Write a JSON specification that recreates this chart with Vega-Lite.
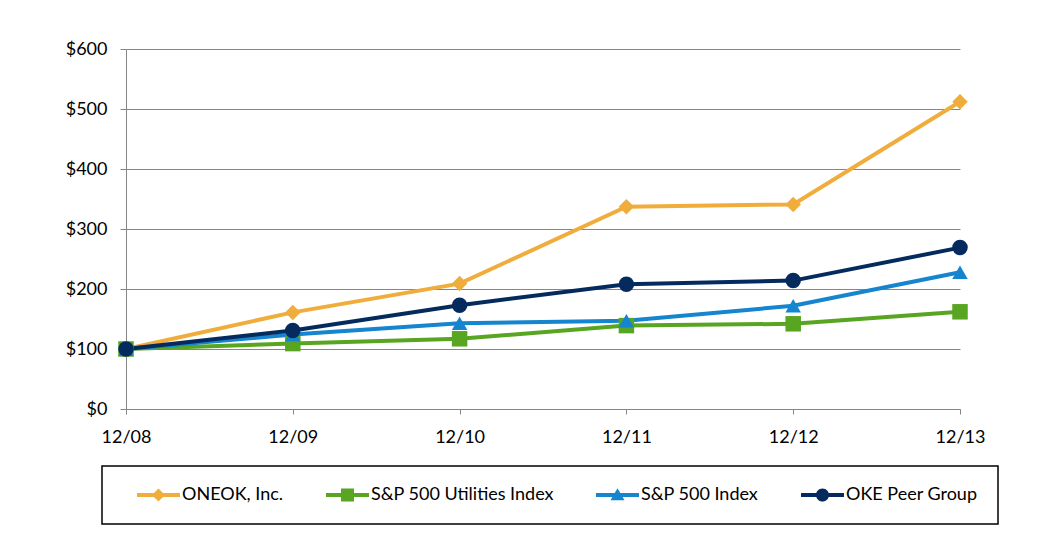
{
  "$schema": "https://vega.github.io/schema/vega-lite/v6.json",
  "width": 834,
  "height": 360,
  "autosize": {"type": "none"},
  "padding": {"left": 126, "top": 49, "right": 77, "bottom": 129},
  "background": "white",
  "data": {
    "values": [
      {"year": "12/08", "series": "ONEOK, Inc.", "value": 100},
      {"year": "12/09", "series": "ONEOK, Inc.", "value": 161},
      {"year": "12/10", "series": "ONEOK, Inc.", "value": 209},
      {"year": "12/11", "series": "ONEOK, Inc.", "value": 337},
      {"year": "12/12", "series": "ONEOK, Inc.", "value": 341},
      {"year": "12/13", "series": "ONEOK, Inc.", "value": 512},
      {"year": "12/08", "series": "S&P 500 Utilities Index", "value": 100},
      {"year": "12/09", "series": "S&P 500 Utilities Index", "value": 109},
      {"year": "12/10", "series": "S&P 500 Utilities Index", "value": 117},
      {"year": "12/11", "series": "S&P 500 Utilities Index", "value": 139},
      {"year": "12/12", "series": "S&P 500 Utilities Index", "value": 142},
      {"year": "12/13", "series": "S&P 500 Utilities Index", "value": 162},
      {"year": "12/08", "series": "S&P 500 Index", "value": 100},
      {"year": "12/09", "series": "S&P 500 Index", "value": 124},
      {"year": "12/10", "series": "S&P 500 Index", "value": 143},
      {"year": "12/11", "series": "S&P 500 Index", "value": 147},
      {"year": "12/12", "series": "S&P 500 Index", "value": 172},
      {"year": "12/13", "series": "S&P 500 Index", "value": 228},
      {"year": "12/08", "series": "OKE Peer Group", "value": 100},
      {"year": "12/09", "series": "OKE Peer Group", "value": 131},
      {"year": "12/10", "series": "OKE Peer Group", "value": 173},
      {"year": "12/11", "series": "OKE Peer Group", "value": 208},
      {"year": "12/12", "series": "OKE Peer Group", "value": 214},
      {"year": "12/13", "series": "OKE Peer Group", "value": 269}
    ]
  },
  "encoding": {
    "x": {
      "field": "year", "type": "ordinal",
      "scale": {"type": "point", "padding": 0, "domain": ["12/08", "12/09", "12/10", "12/11", "12/12", "12/13"]},
      "axis": {"title": null, "labelAngle": 0, "grid": false, "domainColor": "#868686", "tickColor": "#868686", "tickSize": 5, "labelPadding": 14, "labelFont": "Lato", "labelFontSize": 18, "labelColor": "#000000"}
    },
    "y": {
      "field": "value", "type": "quantitative",
      "scale": {"domain": [0, 600], "nice": false},
      "axis": {"title": null, "values": [0, 100, 200, 300, 400, 500, 600], "format": "$.0f", "grid": true, "gridColor": "#868686", "domainColor": "#868686", "tickColor": "#868686", "tickSize": 6, "labelPadding": 13, "labelFont": "Lato", "labelFontSize": 18, "labelColor": "#000000"}
    }
  },
  "layer": [
    {
      "mark": {"type": "line", "strokeWidth": 4},
      "encoding": {
        "color": {
          "field": "series", "type": "nominal", "legend": null,
          "scale": {"domain": ["ONEOK, Inc.", "S&P 500 Utilities Index", "S&P 500 Index", "OKE Peer Group"], "range": ["#F0AD3C", "#57A520", "#1585CF", "#052A5E"]}
        }
      }
    },
    {
      "mark": {"type": "point", "filled": true, "opacity": 1, "size": 240},
      "encoding": {
        "color": {
          "field": "series", "type": "nominal", "legend": null,
          "scale": {"domain": ["ONEOK, Inc.", "S&P 500 Utilities Index", "S&P 500 Index", "OKE Peer Group"], "range": ["#F0AD3C", "#57A520", "#1585CF", "#052A5E"]}
        },
        "shape": {
          "field": "series", "type": "nominal", "legend": null,
          "scale": {"domain": ["ONEOK, Inc.", "S&P 500 Utilities Index", "S&P 500 Index", "OKE Peer Group"], "range": ["diamond", "square", "triangle-up", "circle"]}
        }
      }
    },
    {
      "mark": {"type": "point", "filled": true, "opacity": 0, "size": 196},
      "encoding": {
        "color": {
          "field": "series", "type": "nominal",
          "scale": {"domain": ["ONEOK, Inc.", "S&P 500 Utilities Index", "S&P 500 Index", "OKE Peer Group"], "range": ["#F0AD3C", "#57A520", "#1585CF", "#052A5E"]}
        },
        "shape": {
          "field": "series", "type": "nominal",
          "scale": {"domain": ["ONEOK, Inc.", "S&P 500 Utilities Index", "S&P 500 Index", "OKE Peer Group"], "range": [
            "M-3.07,-0.29H3.07V0.29H-3.07Z M0,-0.93L0.93,0L0,0.93L-0.93,0Z",
            "M-3.07,-0.29H3.07V0.29H-3.07Z M-0.93,-0.93H0.93V0.93H-0.93Z",
            "M-3.07,-0.29H3.07V0.29H-3.07Z M0,-0.95L1,0.75L-1,0.75Z",
            "M-3.07,-0.29H3.07V0.29H-3.07Z M-0.93,0A0.93,0.93 0 0,1 0.93,0A0.93,0.93 0 0,1 -0.93,0Z"
          ]}
        }
      }
    }
  ],
  "resolve": {
    "scale": {"shape": "independent", "color": "independent"},
    "legend": {"shape": "independent", "color": "independent"}
  },
  "config": {
    "view": {"stroke": null},
    "font": "Lato",
    "legend": {
      "title": null, "orient": "none", "legendX": -24, "legendY": 417, "direction": "horizontal",
      "strokeColor": "#000000", "strokeWidth": 1.5, "padding": 20, "columnPadding": 27,
      "symbolSize": 196, "symbolOffset": 27.5, "labelOffset": 14.5, "labelLimit": 400, "labelFont": "Lato", "labelFontSize": 18, "labelColor": "#000000",
      "symbolStrokeWidth": 0, "symbolOpacity": 1
    }
  }
}
